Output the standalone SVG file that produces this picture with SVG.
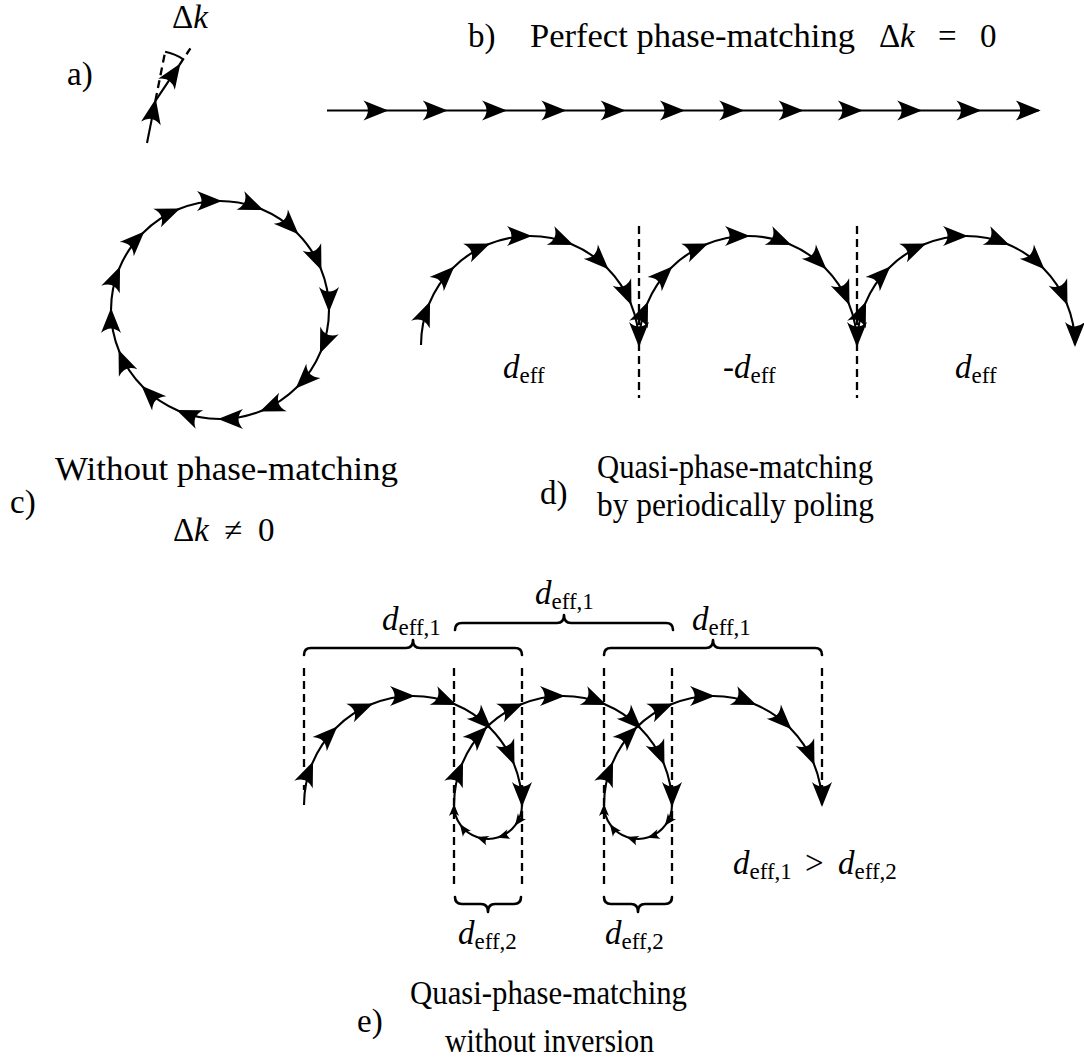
<svg xmlns="http://www.w3.org/2000/svg" width="1084" height="1062" viewBox="0 0 1084 1062">
<style>
.ln{fill:none;stroke:#000;stroke-width:2.1}
.big{marker-mid:url(#ah);marker-end:url(#ah)}
.one{marker-end:url(#ah)}
.sm{marker-mid:url(#as);marker-end:url(#as)}
.dash{fill:none;stroke:#000;stroke-width:2.3;stroke-dasharray:8 5}
.brace{fill:none;stroke:#000;stroke-width:2.6;stroke-linecap:round;stroke-linejoin:round}
text{font-family:"Liberation Serif","DejaVu Serif",serif;font-size:33px;fill:#000}
.it{font-style:italic}
.sub{font-size:23px}
</style>
<defs>
<marker id="ah" viewBox="-27 -11 30 22" markerWidth="30" markerHeight="22" refX="-2" refY="0" orient="auto" markerUnits="userSpaceOnUse">
<path d="M0,0 L-25,-10 Q-16,0 -25,10 Z" fill="#000"/>
</marker>
<marker id="as" viewBox="-14 -6 16 12" markerWidth="16" markerHeight="12" refX="-1" refY="0" orient="auto" markerUnits="userSpaceOnUse">
<path d="M0,0 L-12,-5 Q-7.5,0 -12,5 Z" fill="#000"/>
</marker>
</defs>

<g id="panel-a">
<text x="67" y="85">a)</text>
<text x="172" y="28">Δ<tspan class="it">k</tspan></text>
<g id="a-connectors">
<path class="ln one" d="M147,143 L155.39,100.83"/>
<path class="ln one" d="M155.39,100.83 L179.28,65.07"/>
<path class="dash" d="M155.39,100.83 L165.53,49.83"/>
<path class="dash" d="M179.28,65.07 L190.39,48.44"/>
<path class="ln" d="M165.14,51.79 A50,50 0 0 1 183.17,59.26"/>
</g>
</g>

<g id="panel-b">
<text x="468" y="47">b)</text>
<text x="530" y="47" textLength="325" lengthAdjust="spacingAndGlyphs">Perfect phase-matching</text>
<text y="47"><tspan x="879">Δ</tspan><tspan x="900" class="it">k</tspan><tspan x="938">=</tspan><tspan x="980">0</tspan></text>
<g id="b-connectors">
<path class="ln big" d="M327,110.5 H386.4 H445.7 H505 H564.3 H623.6 H682.9 H742.2 H801.5 H860.8 H920.1 H979.4 H1038.7"/>
</g>
</g>

<g id="panel-c">
<g id="c-connectors">
<path class="ln big" d="M178.29,209.30 A109,109 0 0 1 220,201 A109,109 0 0 1 261.71,209.30 A109,109 0 0 1 297.08,232.93 A109,109 0 0 1 320.70,268.29 A109,109 0 0 1 329,310 A109,109 0 0 1 320.70,351.71 A109,109 0 0 1 297.08,387.08 A109,109 0 0 1 261.71,410.70 A109,109 0 0 1 220,419 A109,109 0 0 1 178.29,410.70 A109,109 0 0 1 142.93,387.08 A109,109 0 0 1 119.30,351.71 A109,109 0 0 1 111,310 A109,109 0 0 1 119.30,268.29 A109,109 0 0 1 142.93,232.93 A109,109 0 0 1 178.29,209.30"/>
</g>
<text x="55" y="480" textLength="343" lengthAdjust="spacingAndGlyphs">Without phase-matching</text>
<text x="10" y="513">c)</text>
<text y="541"><tspan x="173">Δ</tspan><tspan x="194" class="it">k</tspan><tspan x="224">≠</tspan><tspan x="258">0</tspan></text>
</g>

<g id="panel-d">
<g id="d-connectors">
<path class="ln big" d="M421,345 A109,109 0 0 1 429.30,303.29 A109,109 0 0 1 452.93,267.93 A109,109 0 0 1 488.29,244.30 A109,109 0 0 1 530,236 A109,109 0 0 1 571.71,244.30 A109,109 0 0 1 607.08,267.93 A109,109 0 0 1 630.70,303.29 A109,109 0 0 1 639,345"/>
<path class="ln big" d="M639,345 A109,109 0 0 1 647.30,303.29 A109,109 0 0 1 670.93,267.93 A109,109 0 0 1 706.29,244.30 A109,109 0 0 1 748,236 A109,109 0 0 1 789.71,244.30 A109,109 0 0 1 825.08,267.93 A109,109 0 0 1 848.70,303.29 A109,109 0 0 1 857,345"/>
<path class="ln big" d="M857,345 A109,109 0 0 1 865.30,303.29 A109,109 0 0 1 888.93,267.93 A109,109 0 0 1 924.29,244.30 A109,109 0 0 1 966,236 A109,109 0 0 1 1007.71,244.30 A109,109 0 0 1 1043.08,267.93 A109,109 0 0 1 1066.70,303.29 A109,109 0 0 1 1075,345"/>
<path class="dash" d="M639,226 V398 M857,226 V398"/>
</g>
<text x="503" y="378"><tspan class="it">d</tspan><tspan class="sub" dy="5">eff</tspan></text>
<text x="723" y="378">-<tspan class="it">d</tspan><tspan class="sub" dy="5">eff</tspan></text>
<text x="955" y="378"><tspan class="it">d</tspan><tspan class="sub" dy="5">eff</tspan></text>
<text x="540" y="504">d)</text>
<text x="597" y="478" textLength="276" lengthAdjust="spacingAndGlyphs">Quasi-phase-matching</text>
<text x="597" y="516" textLength="277" lengthAdjust="spacingAndGlyphs">by periodically poling</text>
</g>

<g id="panel-e">
<g id="e-connectors">
<path class="ln big" d="M304,805 A109,109 0 0 1 312.30,763.29 A109,109 0 0 1 335.93,727.93 A109,109 0 0 1 371.29,704.30 A109,109 0 0 1 413,696 A109,109 0 0 1 454.71,704.30 A109,109 0 0 1 490.08,727.93 A109,109 0 0 1 513.70,763.29 A109,109 0 0 1 522,805"/>
<path class="ln sm" d="M522,805 A34,34 0 0 1 515.51,824.99 A34,34 0 0 1 498.51,837.34 A34,34 0 0 1 477.49,837.34 A34,34 0 0 1 460.49,824.99 A34,34 0 0 1 454,805"/>
<path class="ln big" d="M454,805 A109,109 0 0 1 462.30,763.29 A109,109 0 0 1 485.93,727.93 A109,109 0 0 1 521.29,704.30 A109,109 0 0 1 563,696 A109,109 0 0 1 604.71,704.30 A109,109 0 0 1 640.08,727.93 A109,109 0 0 1 663.70,763.29 A109,109 0 0 1 672,805"/>
<path class="ln sm" d="M672,805 A34,34 0 0 1 665.51,824.99 A34,34 0 0 1 648.51,837.34 A34,34 0 0 1 627.49,837.34 A34,34 0 0 1 610.49,824.99 A34,34 0 0 1 604,805"/>
<path class="ln big" d="M604,805 A109,109 0 0 1 612.30,763.29 A109,109 0 0 1 635.93,727.93 A109,109 0 0 1 671.29,704.30 A109,109 0 0 1 713,696 A109,109 0 0 1 754.71,704.30 A109,109 0 0 1 790.08,727.93 A109,109 0 0 1 813.70,763.29 A109,109 0 0 1 822,805"/>
<path class="dash" d="M304,668 V790 M822,668 V790 M454,668 V888 M522,668 V888 M604,668 V888 M672,668 V888"/>
<path class="brace" d="M304,655 Q304,648 311,648 L406,648 Q413,648 413,640 Q413,648 420,648 L515,648 Q522,648 522,655"/>
<path class="brace" d="M455,630 Q455,623 462,623 L557,623 Q564,623 564,615 Q564,623 571,623 L666,623 Q673,623 673,630"/>
<path class="brace" d="M604,655 Q604,648 611,648 L706,648 Q713,648 713,640 Q713,648 720,648 L815,648 Q822,648 822,655"/>
<path class="brace" d="M455,897 Q455,904 462,904 L481,904 Q488,904 488,912 Q488,904 495,904 L514,904 Q521,904 521,897"/>
<path class="brace" d="M604,897 Q604,904 611,904 L631,904 Q638,904 638,912 Q638,904 645,904 L665,904 Q672,904 672,897"/>
</g>
<text x="382" y="630"><tspan class="it">d</tspan><tspan class="sub" dy="5">eff,1</tspan></text>
<text x="535" y="604"><tspan class="it">d</tspan><tspan class="sub" dy="5">eff,1</tspan></text>
<text x="692" y="630"><tspan class="it">d</tspan><tspan class="sub" dy="5">eff,1</tspan></text>
<text x="458" y="944"><tspan class="it">d</tspan><tspan class="sub" dy="5">eff,2</tspan></text>
<text x="605" y="944"><tspan class="it">d</tspan><tspan class="sub" dy="5">eff,2</tspan></text>
<text y="874"><tspan x="733" class="it">d</tspan><tspan class="sub" dy="5">eff,1</tspan><tspan x="805" dy="-5">&gt;</tspan><tspan x="838" class="it">d</tspan><tspan class="sub" dy="5">eff,2</tspan></text>
<text x="357" y="1032">e)</text>
<text x="410" y="1004" textLength="277" lengthAdjust="spacingAndGlyphs">Quasi-phase-matching</text>
<text x="445" y="1052" textLength="209" lengthAdjust="spacingAndGlyphs">without inversion</text>
</g>
</svg>
